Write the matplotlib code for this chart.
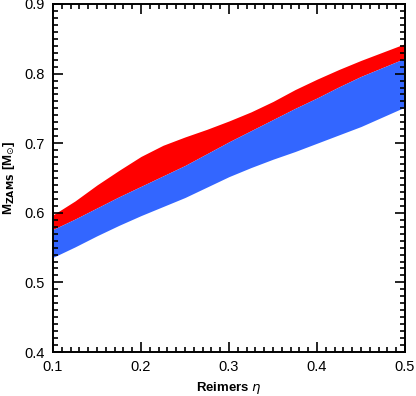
import numpy as np
import matplotlib.pyplot as plt
from matplotlib.ticker import MultipleLocator, AutoMinorLocator

# Reimers eta grid and band edges
eta = [0.1, 0.125, 0.15, 0.175, 0.2, 0.225, 0.25, 0.275, 0.3,
       0.325, 0.35, 0.375, 0.4, 0.425, 0.45, 0.475, 0.5]
red_top = [0.597, 0.617, 0.640, 0.661, 0.681, 0.697, 0.709, 0.720, 0.732,
           0.745, 0.760, 0.777, 0.792, 0.806, 0.819, 0.831, 0.843]
blue_top = [0.576, 0.591, 0.607, 0.623, 0.638, 0.653, 0.668, 0.685, 0.702,
            0.718, 0.734, 0.750, 0.765, 0.781, 0.796, 0.809, 0.822]
blue_bottom = [0.536, 0.551, 0.567, 0.582, 0.596, 0.609, 0.622, 0.637, 0.652,
               0.665, 0.677, 0.688, 0.700, 0.712, 0.724, 0.738, 0.752]

plt.rcParams['font.family'] = ['Liberation Sans', 'DejaVu Sans']
plt.rcParams['mathtext.fontset'] = 'dejavusans'

fig = plt.figure(figsize=(4.16, 3.96), dpi=100)
ax = fig.add_axes([0.1274, 0.1111, 0.8462, 0.8788])

ax.fill_between(eta, blue_top, red_top, color='#ff0000', lw=0)
ax.fill_between(eta, blue_bottom, blue_top, color='#3366ff', lw=0)

ax.set_xlim(0.1, 0.5)
ax.set_ylim(0.4, 0.9)
ax.xaxis.set_major_locator(MultipleLocator(0.1))
ax.xaxis.set_minor_locator(AutoMinorLocator(10))
ax.yaxis.set_major_locator(MultipleLocator(0.1))
ax.yaxis.set_minor_locator(AutoMinorLocator(10))
ax.xaxis.set_major_formatter(plt.FuncFormatter(lambda v, p: '%.1f' % v))
ax.yaxis.set_major_formatter(plt.FuncFormatter(lambda v, p: '%.1f' % v))
ax.tick_params(which='both', direction='in', top=True, right=True, width=1.2)
ax.tick_params(which='major', length=7, pad=6, labelsize=10.5)
ax.tick_params(which='minor', length=3.5)
for s in ax.spines.values():
    s.set_linewidth(1.4)

ax.set_xlabel(r'Reimers $\eta$', fontsize=9.5, fontweight='bold', labelpad=4)
ax.set_ylabel(r'M$_{\mathbf{ZAMS}}$ [M$_{\odot}$]', fontsize=9.5, fontweight='bold', labelpad=5)

fig.savefig('out.png', dpi=100)
